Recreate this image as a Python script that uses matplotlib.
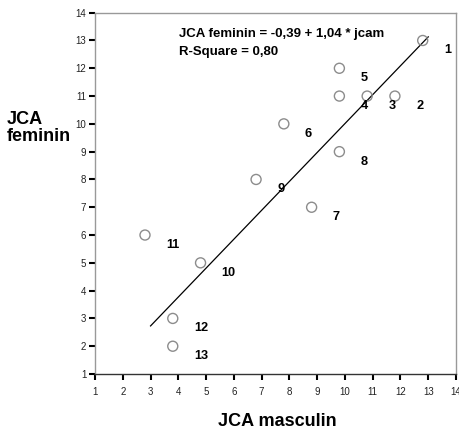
"""Scatter of JCA feminin vs JCA masculin with fitted line and point numbers."""

import matplotlib

matplotlib.use("Agg")
import matplotlib.pyplot as plt  # noqa: E402
import numpy as np  # noqa: E402

plt.rcParams["font.family"] = ["Liberation Sans", "DejaVu Sans"]

# data
labels = ["1", "2", "3", "4", "5", "6", "7", "8", "9", "10", "11", "12", "13"]
jca_masculin = [12.8, 11.8, 10.8, 9.8, 9.8, 7.8, 8.8, 9.8, 6.8, 4.8, 2.8, 3.8, 3.8]
jca_feminin = [13, 11, 11, 11, 12, 10, 7, 9, 8, 5, 6, 3, 2]
fit_intercept = -0.39
fit_slope = 1.04
fit_x = [3.0, 13.0]
ticks = list(range(1, 15))

fig = plt.figure(figsize=(4.59, 4.30), dpi=100)
ax = fig.add_axes([0.207, 0.1302, 0.7865, 0.8403])

ax.scatter(jca_masculin, jca_feminin, s=52, facecolors="none",
           edgecolors="#8c8c8c", linewidths=1.0, zorder=3)
for lab, x, y in zip(labels, jca_masculin, jca_feminin):
    ax.text(x + 0.76, y - 0.36, lab, fontsize=9.2, fontweight="bold",
            ha="left", va="center")

fx = np.array(fit_x)
ax.plot(fx, fit_intercept + fit_slope * fx, color="black", lw=0.9, zorder=2)

ax.text(4.02, 13.12, "JCA feminin = -0,39 + 1,04 * jcam", fontsize=9.5,
        fontweight="bold", va="baseline")
ax.text(4.02, 12.48, "R-Square = 0,80", fontsize=9.5, fontweight="bold",
        va="baseline")

ax.set_xlim(1, 14)
ax.set_ylim(1, 14)
ax.set_xticks(ticks)
ax.set_yticks(ticks)
ax.tick_params(axis="both", labelsize=7, color="black", width=1.5,
               length=4.5, labelcolor="#222222")
ax.tick_params(axis="x", pad=4.5)
ax.tick_params(axis="y", pad=1.8)

for side in ("left", "top", "right"):
    ax.spines[side].set_color("#999999")
    ax.spines[side].set_linewidth(1.0)
ax.spines["bottom"].set_color("#333333")
ax.spines["bottom"].set_linewidth(1.0)

fig.text(277 / 459, 1 - 421 / 430, "JCA masculin", fontsize=13,
         fontweight="bold", ha="center", va="center")
fig.text(7 / 459, 1 - 128 / 430, "JCA\nfeminin", fontsize=13,
         fontweight="bold", ha="left", va="center", linespacing=1.05)

fig.savefig("out.png", dpi=100)
